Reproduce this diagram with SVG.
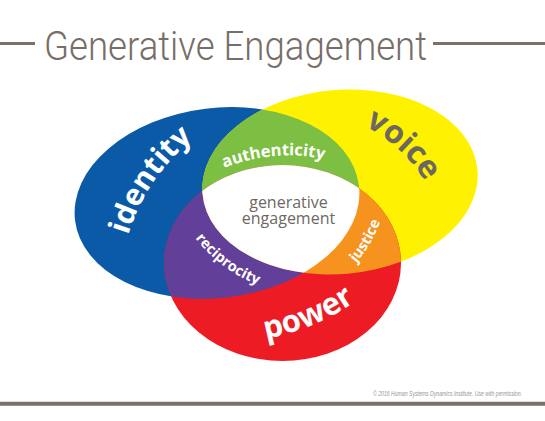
<svg xmlns="http://www.w3.org/2000/svg" width="545" height="421" viewBox="0 0 545 421">
<style>
.lbl{font-family:"Open Sans","Liberation Sans",sans-serif;font-weight:700;fill:#fff}
.dark{fill:#6e6761}
.ctr{font-family:"Open Sans","Liberation Sans",sans-serif;font-size:16px;fill:#6e6862;text-anchor:middle}
.rule{stroke:#7a7169;fill:none}
</style>
<defs>
<clipPath id="cB"><ellipse cx="217" cy="203" rx="143" ry="95" transform="rotate(-7 217 203)"/></clipPath>
<clipPath id="cY"><ellipse cx="340" cy="182" rx="138" ry="92" transform="rotate(-5 340 182)"/></clipPath>
<path id="pId" d="M 125 246 A 200 200 0 0 1 202 132"/>
<path id="pVo" d="M 356 122 A 150 150 0 0 1 430 190"/>
<path id="pPo" d="M 250 341 A 230 230 0 0 0 368 292"/>
<path id="pAu" d="M 216 171 Q 280 145 332 162"/>
<path id="pRe" d="M 190 231 A 150 150 0 0 0 266 288"/>
<path id="pJu" d="M 348 272 A 140 140 0 0 0 384 210"/>
</defs>
<rect width="545" height="421" fill="#fff"/>

<g id="title">
<line class="rule" x1="0" y1="43.5" x2="35" y2="43.5" stroke-width="3"/>
<line class="rule" x1="433" y1="43.5" x2="545" y2="43.5" stroke-width="3"/>
<text x="44" y="59.5" font-family="Roboto,'Liberation Sans',sans-serif" font-weight="300" font-size="41" fill="#776e67" textLength="383" lengthAdjust="spacingAndGlyphs">Generative Engagement</text>
</g>

<g id="identity">
<ellipse cx="217" cy="203" rx="143" ry="95" transform="rotate(-7 217 203)" fill="#0a5aa8"/>
</g>
<g id="voice">
<ellipse cx="340" cy="182" rx="138" ry="92" transform="rotate(-5 340 182)" fill="#fff200"/>
</g>
<g id="power">
<ellipse cx="282.5" cy="263" rx="118.5" ry="98" fill="#ed1c24"/>
</g>
<g id="authenticity">
<g clip-path="url(#cB)"><ellipse cx="340" cy="182" rx="138" ry="92" transform="rotate(-5 340 182)" fill="#7cbf42"/></g>
</g>
<g id="reciprocity">
<g clip-path="url(#cB)"><ellipse cx="282.5" cy="263" rx="118.5" ry="98" fill="#623f98"/></g>
</g>
<g id="justice">
<g clip-path="url(#cY)"><ellipse cx="282.5" cy="263" rx="118.5" ry="98" fill="#f6921e"/></g>
</g>
<g id="generative-engagement">
<g clip-path="url(#cB)"><g clip-path="url(#cY)"><ellipse cx="282.5" cy="263" rx="118.5" ry="98" fill="#fff"/></g></g>
<text class="ctr" x="288.5" y="208">generative</text>
<text class="ctr" x="288.5" y="223.5">engagement</text>
</g>

<g id="labels">
<text class="lbl" font-size="30"><textPath href="#pId" startOffset="50%" text-anchor="middle">identity</textPath></text>
<text class="lbl dark" font-size="32"><textPath href="#pVo" startOffset="50%" text-anchor="middle">voice</textPath></text>
<text class="lbl" font-size="31"><textPath href="#pPo" startOffset="50%" text-anchor="middle">power</textPath></text>
<text class="lbl" font-size="16.5"><textPath href="#pAu" startOffset="50%" text-anchor="middle">authenticity</textPath></text>
<text class="lbl" font-size="14.5"><textPath href="#pRe" startOffset="50%" text-anchor="middle">reciprocity</textPath></text>
<text class="lbl" font-size="14.5"><textPath href="#pJu" startOffset="50%" text-anchor="middle">justice</textPath></text>
</g>

<g id="connectors"></g>

<g id="footer">
<text x="373" y="395.5" font-family="'Liberation Sans',sans-serif" font-style="italic" font-size="6.3" fill="#9a958f" textLength="149" lengthAdjust="spacingAndGlyphs">© 2016 Human Systems Dynamics Institute. Use with permission.</text>
<line class="rule" x1="0" y1="403.7" x2="545" y2="403.7" stroke-width="4"/>
</g>
</svg>
